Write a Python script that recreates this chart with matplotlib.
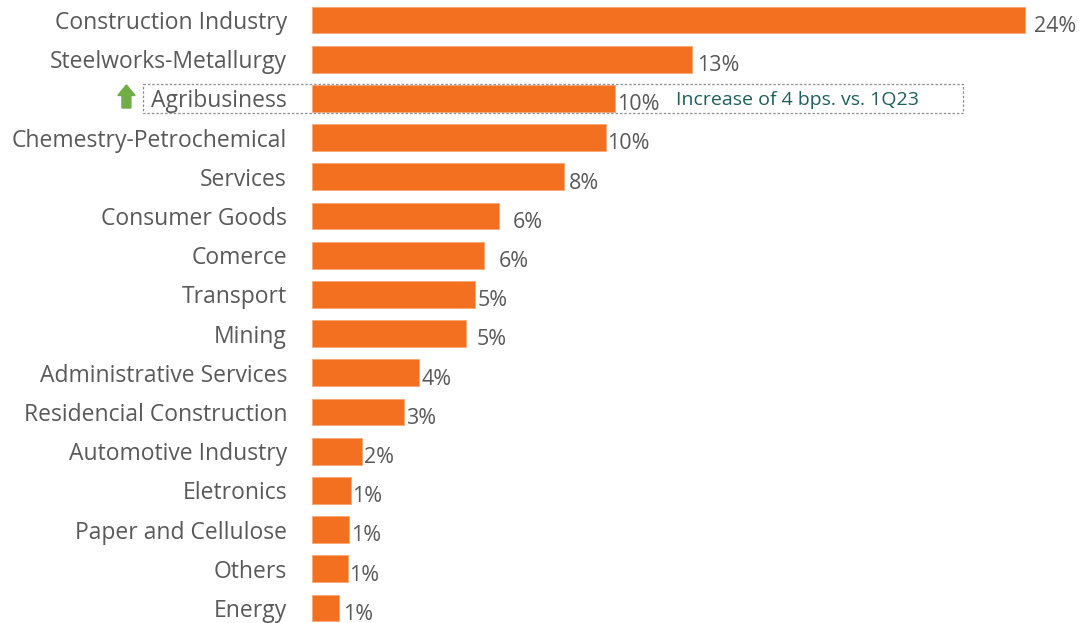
import matplotlib
matplotlib.use("Agg")
import matplotlib.pyplot as plt
from matplotlib.patches import Rectangle, FancyArrow

plt.rcParams["font.family"] = ["Open Sans", "DejaVu Sans"]

sectors = [
    "Construction Industry", "Steelworks-Metallurgy", "Agribusiness",
    "Chemestry-Petrochemical", "Services", "Consumer Goods", "Comerce",
    "Transport", "Mining", "Administrative Services", "Residencial Construction",
    "Automotive Industry", "Eletronics", "Paper and Cellulose", "Others", "Energy",
]
shares = [24.0, 12.8, 10.2, 9.9, 8.5, 6.3, 5.8, 5.5, 5.2, 3.6, 3.1, 1.7, 1.3, 1.25, 1.2, 0.9]
share_labels = ["24%", "13%", "10%", "10%", "8%", "6%", "6%", "5%", "5%", "4%",
                "3%", "2%", "1%", "1%", "1%", "1%"]
note_text = "Increase of 4 bps. vs. 1Q23"
highlight = 2  # Agribusiness

# label offsets (pixels) as placed in the original
label_pad = [9, 5, 2, 1, 4, 14, 15, 2, 10, 3, 2, 2, 1, 2, 1, 4]

bar_color = "#F37021"
text_grey = "#595959"

fig = plt.figure(figsize=(10.84, 6.23), dpi=100)
ax = fig.add_axes([312 / 1084, 0, 772 / 1084, 1])

ypos = list(range(len(sectors)))
ax.barh(ypos, shares, height=0.68, color=bar_color, edgecolor="#F6A877", linewidth=0.6)

ax.set_xlim(0, 26.0)
ax.set_ylim(15 + 15 / 39.2, -20 / 39.2)
ax.set_yticks(ypos)
ax.set_yticklabels(sectors, fontsize=16.5, color=text_grey)
ax.tick_params(axis="y", length=0, pad=18)
ax.set_xticks([])
for sp in ax.spines.values():
    sp.set_visible(False)

for i, (v, lab) in enumerate(zip(shares, share_labels)):
    ax.annotate(lab, (v, i), xytext=(label_pad[i] * 0.72, -4.5), textcoords="offset points",
                ha="left", va="center", fontsize=15.5, color=text_grey)

# note next to the highlighted bar
ax.annotate(note_text, (shares[highlight], highlight), xytext=(44, -1),
            textcoords="offset points", ha="left", va="center",
            fontsize=14, color="#1E5E5E")

# dashed box around the highlighted row
ax.add_patch(Rectangle((-5.7, highlight - 0.37), 27.64, 0.74, fill=False,
                       edgecolor="#8C8C8C", linestyle=(0, (2, 1.5)), linewidth=0.9,
                       clip_on=False))

# green arrow
ax.add_patch(FancyArrow(-6.25, highlight + 0.245, 0, -0.59, width=0.3,
                        head_width=0.58, head_length=0.27, length_includes_head=True,
                        color="#70AD47", clip_on=False))

fig.savefig("out.png", dpi=100)
